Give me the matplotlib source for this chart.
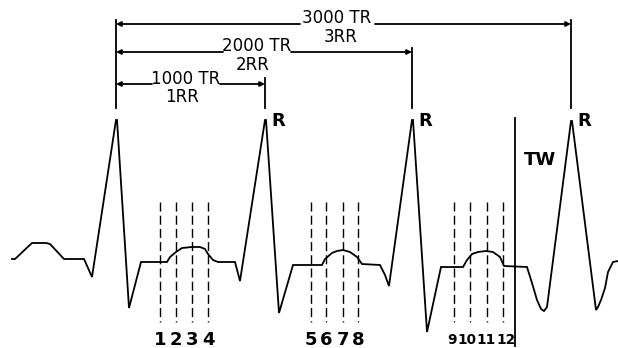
import matplotlib
matplotlib.use("Agg")
import matplotlib.pyplot as plt

# ECG trace (x, y in picture units, y grows downward)
trace_x = [12, 15, 32, 46, 50, 64, 84, 92, 116, 117, 129, 141, 167, 170, 176, 182, 192, 200, 205, 208, 213, 218,
           235, 240, 265, 266, 279, 293, 322, 325, 332, 337, 343, 350, 357, 362, 380, 385, 389, 412, 413, 427,
           441, 463, 467, 472, 478, 486, 493, 500, 504, 527, 532, 537, 541, 544, 547, 571, 572, 596, 598, 601,
           605, 608, 613, 618]
trace_y = [259, 259, 243, 243, 244, 259, 259, 277, 120, 120, 308, 262, 262, 257, 252, 248, 247, 247, 249, 254, 260, 262,
           262, 281, 120, 120, 313, 265, 265, 259, 253, 251, 250, 252, 257, 264, 265, 275, 286, 120, 120, 332,
           267, 267, 260, 254, 252, 251, 252, 257, 266, 267, 283, 300, 309, 311, 307, 121, 121, 310, 307, 300,
           288, 272, 262, 261]

# Sample (dashed) lines and their labels
sample_x = [160, 176, 192, 208, 311, 326, 343, 358, 454, 470, 487, 503]
sample_labels = ["1", "2", "3", "4", "5", "6", "7", "8", "9", "10", "11", "12"]

# R-R interval brackets
interval_labels = ["1000 TR", "2000 TR", "3000 TR"]
interval_sub = ["1RR", "2RR", "3RR"]
r_peaks = [116, 265, 412, 571]

fig = plt.figure(figsize=(6.18, 3.48), dpi=100)
ax = fig.add_axes([0, 0, 1, 1])
ax.set_xlim(0, 618)
ax.set_ylim(348, 0)
ax.axis("off")

lw = 1.3
ax.plot(trace_x, trace_y, color="black", lw=lw, solid_joinstyle="miter")

for x in sample_x:
    ax.plot([x, x], [202, 322], color="black", lw=1.0, dashes=(6.5, 3.0))

# small nudges so the crowded labels of the last group sit side by side
nudge = {"9": -2.5, "10": -3.5, "11": -0.5, "12": 3.5}
for x, lab in zip(sample_x, sample_labels):
    if lab in nudge:
        ax.text(x + nudge[lab], 340, lab, ha="center", va="center", fontsize=9.8,
                fontweight="bold", family="DejaVu Sans")
    else:
        ax.text(x, 340, lab, ha="center", va="center", fontsize=13, fontweight="bold",
                family="DejaVu Sans")

# Vertical bracket lines above R peaks
tops = [20, 78, 48, 20]
for x, t in zip(r_peaks, tops):
    ax.plot([x, x], [t, 108], color="black", lw=lw)

# Horizontal interval lines with text
rows = [  # y of line, right x, text center x/y, sub center x/y, text extent
    (84, r_peaks[1], 186, 79, 182, 97, 152, 220),
    (52, r_peaks[2], 257, 46, 253, 65, 223, 291),
    (24, r_peaks[3], 337, 18, 341, 37, 300, 375),
]
for (y, xr, tx, ty, sx, sy, tl, tr), lab, sub in zip(rows, interval_labels, interval_sub):
    ax.annotate("", xy=(r_peaks[0], y), xytext=(tl, y),
                arrowprops=dict(arrowstyle="-|>", lw=lw, color="black", mutation_scale=7,
                                shrinkA=0, shrinkB=0))
    ax.annotate("", xy=(xr, y), xytext=(tr, y),
                arrowprops=dict(arrowstyle="-|>", lw=lw, color="black", mutation_scale=7,
                                shrinkA=0, shrinkB=0))
    ax.text(tx, ty, lab, ha="center", va="center", fontsize=12, family="DejaVu Sans")
    ax.text(sx, sy, sub, ha="center", va="center", fontsize=12, family="DejaVu Sans")

for x in r_peaks[1:]:
    ax.text(x + 13, 121, "R", ha="center", va="center", fontsize=13, fontweight="bold",
            family="DejaVu Sans")

# TW window line
ax.plot([515, 515], [118, 346], color="black", lw=lw)
ax.text(540, 160, "TW", ha="center", va="center", fontsize=13, fontweight="bold", family="DejaVu Sans")

fig.savefig("out.png", dpi=100, facecolor="white")
